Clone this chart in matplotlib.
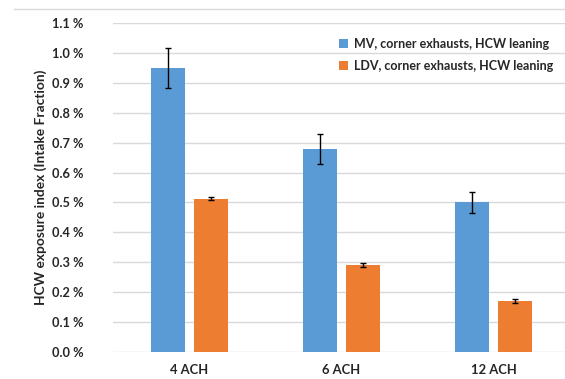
import matplotlib.pyplot as plt
import numpy as np

categories = ['4 ACH', '6 ACH', '12 ACH']
mv_values = [0.95, 0.68, 0.50]
mv_err = [0.067, 0.05, 0.035]
ldv_values = [0.513, 0.291, 0.171]
ldv_err = [0.006, 0.006, 0.006]
series_names = ['MV, corner exhausts, HCW leaning', 'LDV, corner exhausts, HCW leaning']
yticks = np.arange(0, 1.11, 0.1)

plt.rcParams['font.family'] = ['Lato', 'DejaVu Sans']

fig = plt.figure(figsize=(5.65, 3.79), dpi=100)
ax = fig.add_axes([113 / 565, 27 / 379, 452 / 565, 329 / 379])

x = np.arange(len(categories))
w = 0.224
off = 0.1414
ax.bar(x - off, mv_values, w, color='#5B9BD5', label=series_names[0], zorder=3,
       yerr=mv_err, error_kw=dict(ecolor='black', elinewidth=1, capsize=2.5, capthick=1))
ax.bar(x + off, ldv_values, w, color='#ED7D31', label=series_names[1], zorder=3,
       yerr=ldv_err, error_kw=dict(ecolor='black', elinewidth=1, capsize=2.5, capthick=1))

ax.set_xlim(-0.5, 2.47)
ax.set_ylim(0, 1.1)
ax.set_yticks(yticks)
ax.set_yticklabels(['{:.1f} %'.format(v) for v in yticks], fontsize=9.2, fontweight='bold', color='#262626')
ax.set_xticks(x)
ax.set_xticklabels(categories, fontsize=9.4, fontweight='bold', color='#262626')
ax.tick_params(axis='both', length=0)
ax.tick_params(axis='y', pad=21)
ax.tick_params(axis='x', pad=9)
ax.grid(axis='y', color='#D9D9D9', linewidth=1, zorder=0)
for s in ax.spines.values():
    s.set_visible(False)

ax.set_ylabel('HCW exposure index (Intake Fraction)', fontsize=9.9, fontweight='bold', color='#262626', labelpad=4)

leg = ax.legend(loc='upper left', bbox_to_anchor=(0.475, 0.99), frameon=False,
                prop=dict(size=9, weight='bold'), handlelength=0.7, handleheight=0.7,
                handletextpad=0.5, labelspacing=0.8)
for t in leg.get_texts():
    t.set_color('#262626')

fig.add_artist(plt.Line2D([14 / 565, 1], [1 - 9 / 379, 1 - 9 / 379], color='#D9D9D9', linewidth=1))

fig.savefig('out.png', dpi=100)
